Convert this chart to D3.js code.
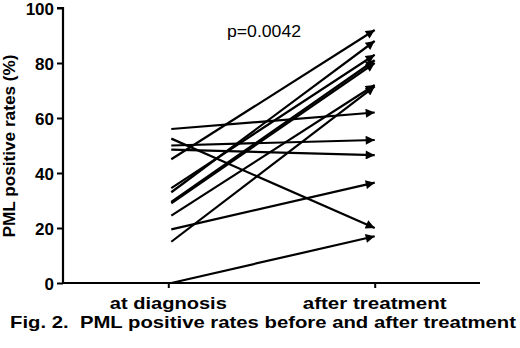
<!DOCTYPE html>
<html>
<head>
<meta charset="utf-8">
<script src="https://cdn.jsdelivr.net/npm/d3@7"></script>
<style>
  body { margin: 0; background: #fff; }
  text { font-family: "Liberation Sans", Arial, sans-serif; fill: #000; }
</style>
</head>
<body>
<div id="chart"></div>
<script>
// data
var groups = ["at diagnosis", "after treatment"];
var atDiagnosis = [56, 52.5, 50, 48.5, 45, 34.5, 33, 29.5, 29, 24.5, 19.5, 15, 0];
var afterTreatment = [62, 20, 52, 46.5, 92, 83, 88, 81, 80, 72, 36.5, 71.5, 17];
var yTicks = [0, 20, 40, 60, 80, 100];
var pText = "p=0.0042";
var yTitle = "PML positive rates (%)";
var caption = "Fig. 2.  PML positive rates before and after treatment";

var w = 520;
var h = 348;
var padding = { top: 8, right: 40, bottom: 65, left: 63 };

var svg = d3.select("#chart").append("svg").attr("width", w).attr("height", h);

var xScale = d3.scalePoint().domain(groups).range([padding.left, w - padding.right]).padding(0.51);
var yScale = d3.scaleLinear().domain([0, 100]).range([h - padding.bottom, padding.top]);

// arrow head
svg.append("defs").append("marker")
  .attr("id", "arrow")
  .attr("viewBox", "0 0 10 10")
  .attr("refX", 10)
  .attr("refY", 5)
  .attr("markerUnits", "userSpaceOnUse")
  .attr("markerWidth", 11)
  .attr("markerHeight", 9)
  .attr("orient", "auto")
  .append("path")
  .attr("d", "M0,0 L10,5 L0,10 Z")
  .attr("fill", "#000");

// axes
var yAxis = d3.axisLeft(yScale).tickValues(yTicks).tickSize(6).tickPadding(3);
var xAxis = d3.axisBottom(xScale).tickSize(5).tickFormat("");

var gy = svg.append("g")
  .attr("transform", "translate(" + padding.left + ",0)")
  .call(yAxis);
gy.select(".domain").attr("d", "M-6," + yScale(100) + "H0V" + yScale(0)).attr("stroke-width", 2.2);
gy.selectAll(".tick line").attr("stroke-width", 2);
gy.selectAll(".tick text")
  .attr("font-size", "17px")
  .attr("font-weight", "bold")
  .attr("font-family", "Liberation Sans, Arial, sans-serif")
  .attr("dy", "0.38em");

var gx = svg.append("g")
  .attr("transform", "translate(0," + yScale(0) + ")")
  .call(xAxis);
gx.select(".domain").attr("d", "M" + padding.left + ",0H" + (w - padding.right)).attr("stroke-width", 2.2);
gx.selectAll(".tick line").attr("stroke-width", 2);

// paired lines
var pairs = atDiagnosis.map(function (d, i) { return [d, afterTreatment[i]]; });
svg.selectAll("line.pair")
  .data(pairs)
  .enter()
  .append("line")
  .attr("class", "pair")
  .attr("x1", function () { return xScale(groups[0]) + 3; })
  .attr("y1", function (d) { return yScale(d[0]); })
  .attr("x2", function () { return xScale(groups[1]); })
  .attr("y2", function (d) { return yScale(d[1]); })
  .attr("stroke", "#000")
  .attr("stroke-width", 2.2)
  .attr("marker-end", "url(#arrow)");

// group labels
svg.selectAll("text.group")
  .data(groups)
  .enter()
  .append("text")
  .attr("class", "group")
  .attr("x", function (d) { return xScale(d); })
  .attr("y", 308.5)
  .attr("text-anchor", "middle")
  .attr("font-size", "17px")
  .attr("font-weight", "bold")
  .attr("textLength", function (d, i) { return i === 0 ? 117 : 144; })
  .attr("lengthAdjust", "spacingAndGlyphs")
  .text(function (d) { return d; });

// y title
svg.append("text")
  .attr("transform", "translate(15,146) rotate(-90)")
  .attr("text-anchor", "middle")
  .attr("font-size", "16px")
  .attr("font-weight", "bold")
  .attr("textLength", 183)
  .attr("lengthAdjust", "spacingAndGlyphs")
  .text(yTitle);

// p value
svg.append("text")
  .attr("x", 227)
  .attr("y", 36.5)
  .attr("font-size", "16px")
  .attr("textLength", 74)
  .attr("lengthAdjust", "spacingAndGlyphs")
  .text(pText);

// caption
svg.append("text")
  .attr("x", 10)
  .attr("y", 327.5)
  .attr("font-size", "17px")
  .attr("font-weight", "bold")
  .style("white-space", "pre")
  .attr("textLength", 506)
  .attr("lengthAdjust", "spacingAndGlyphs")
  .text(caption);
</script>
</body>
</html>
